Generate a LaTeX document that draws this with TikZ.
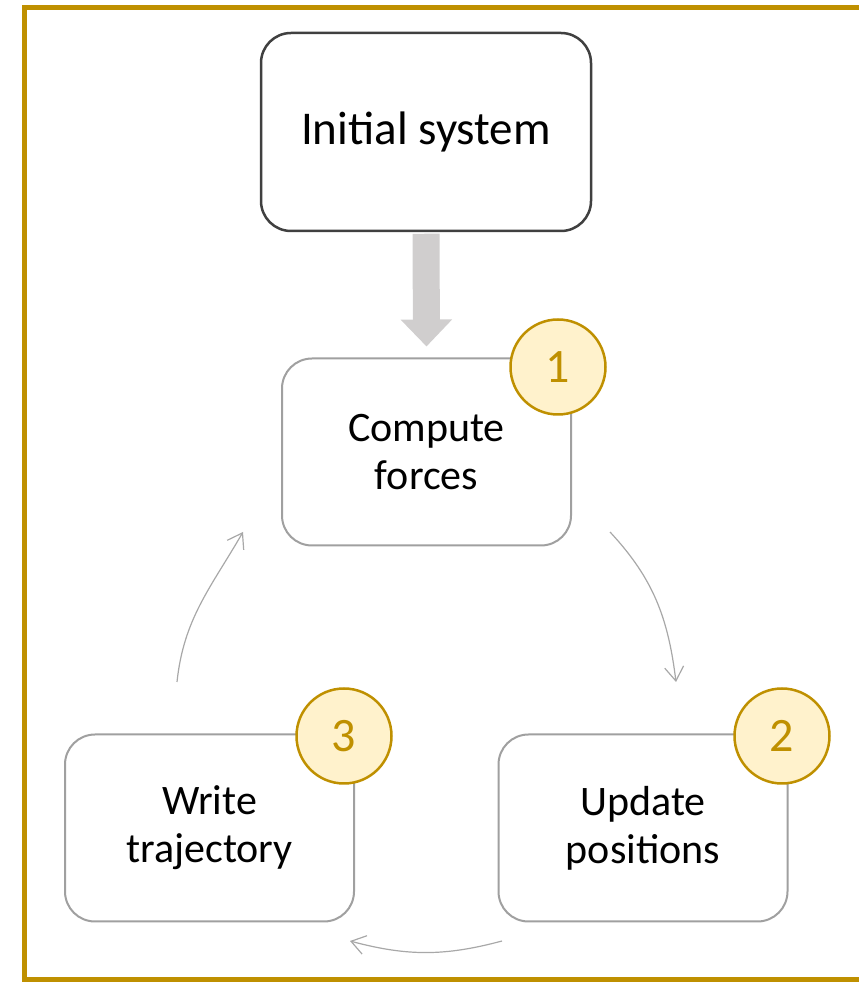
\documentclass[tikz,border=0pt]{standalone}
\usepackage{fontspec}
\setmainfont{Carlito}
\usetikzlibrary{arrows.meta,positioning}
\definecolor{framegold}{HTML}{BF9000}
\definecolor{badgefill}{HTML}{FFF2CC}
\definecolor{initgray}{HTML}{404040}
\definecolor{boxgray}{HTML}{A0A0A0}
\definecolor{fatgray}{HTML}{D0CECE}
\definecolor{loopgray}{HTML}{A8A8A8}
\begin{document}
\begin{tikzpicture}[x=1pt,y=1pt,
	stepbox/.style={draw=boxgray,fill=white,line width=2pt,rounded corners=30pt,minimum width=289pt,minimum height=187pt,inner sep=0pt,align=center,font=\fontsize{42}{48}\selectfont},
	badge/.style={circle,draw=framegold,fill=badgefill,line width=2.5pt,minimum size=95pt,inner sep=0pt,text=framegold,font=\fontsize{48}{48}\selectfont},
	loop/.style={draw=loopgray,line width=1.2pt,-{Straight Barb[length=14pt,width=19pt]}}]
	\useasboundingbox (0,0) rectangle (859,983);
	\draw[framegold,line width=5pt] (24.5,3) rectangle (900,975.5);
	\node[stepbox,draw=initgray,line width=2.5pt,minimum width=330pt,minimum height=198pt,font=\fontsize{47}{56}\selectfont] (init) at (426,851) {Initial system};
	\node[stepbox] (forces) at (426.5,531) {Compute\\forces};
	\node[stepbox] (update) at (643,155) {Update\\positions};
	\node[stepbox] (write) at (209.5,155) {Write\\trajectory};
	\node[badge] (b1) at (558,616) {1};
	\node[badge] (b2) at (782,247) {2};
	\node[badge] (b3) at (344,247) {3};
	\draw[fatgray,line width=27pt,-{Triangle[length=27pt,width=50pt]}] ([yshift=-1.5pt]init.south)--([yshift=11pt]forces.north);
	\coordinate (l1a) at (610,451);
	\coordinate (l1b) at (676,301);
	\coordinate (l2a) at (502,42);
	\coordinate (l2b) at (350,42);
	\coordinate (l3a) at (177,301);
	\coordinate (l3b) at (243,451);
	\draw[loop] (l1a) to[out=-47,in=97] (l1b);
	\draw[loop] (l2a) to[out=195,in=-15] (l2b);
	\draw[loop] (l3a) to[out=84,in=240] (l3b);
\end{tikzpicture}
\end{document}
